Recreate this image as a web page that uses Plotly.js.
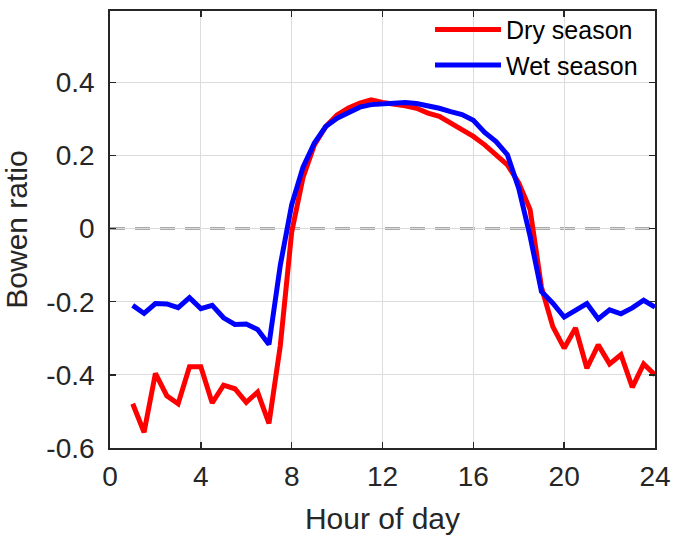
<!DOCTYPE html>
<html>
<head>
<meta charset="utf-8">
<script src="https://cdn.plot.ly/plotly-3.0.1.min.js"></script>
<style>html,body{margin:0;padding:0;background:#fff;}#chart{width:685px;height:535px;}</style>
</head>
<body>
<div id="chart"></div>
<script>
var hours = [1,1.5,2,2.5,3,3.5,4,4.5,5,5.5,6,6.5,7,7.5,8,8.5,9,9.5,10,10.5,11,11.5,12,12.5,13,13.5,14,14.5,15,15.5,16,16.5,17,17.5,18,18.5,19,19.5,20,20.5,21,21.5,22,22.5,23,23.5,24];
var drySeason = [-0.479,-0.557,-0.396,-0.457,-0.479,-0.378,-0.378,-0.477,-0.428,-0.438,-0.475,-0.447,-0.533,-0.32,-0.01,0.14,0.229,0.279,0.311,0.33,0.343,0.352,0.345,0.342,0.336,0.329,0.316,0.307,0.289,0.27,0.252,0.229,0.202,0.174,0.125,0.052,-0.16,-0.268,-0.327,-0.272,-0.382,-0.318,-0.37,-0.345,-0.434,-0.37,-0.4];
var wetSeason = [-0.21,-0.232,-0.205,-0.206,-0.216,-0.189,-0.219,-0.21,-0.244,-0.262,-0.261,-0.276,-0.317,-0.1,0.065,0.168,0.234,0.279,0.302,0.316,0.332,0.339,0.34,0.343,0.345,0.342,0.336,0.329,0.32,0.312,0.296,0.263,0.238,0.202,0.11,-0.021,-0.172,-0.204,-0.242,-0.224,-0.205,-0.247,-0.222,-0.233,-0.217,-0.196,-0.215];
var xTickVals = [0,4,8,12,16,20,24];
var xTickText = ['0','4','8','12','16','20','24'];
var yTickVals = [-0.6,-0.4,-0.2,0,0.2,0.4];
var yTickText = ['-0.6','-0.4','-0.2','0','0.2','0.4'];

var font = 'Liberation Sans, Arial, Helvetica, sans-serif';
var traces = [
  {x: hours, y: drySeason, type: 'scatter', mode: 'lines', name: 'Dry season',
   line: {color: '#ff0000', width: 5}},
  {x: hours, y: wetSeason, type: 'scatter', mode: 'lines', name: 'Wet season',
   line: {color: '#0000ff', width: 5}}
];
var axisCommon = {
  showgrid: true, gridcolor: '#dcdcdc', gridwidth: 1,
  zeroline: false, showline: true, linecolor: '#262626', linewidth: 1.8,
  mirror: 'ticks', ticks: 'inside', ticklen: 6, tickwidth: 1.5, tickcolor: '#262626',
  tickfont: {family: font, size: 28, color: '#262626'}
};
var layout = {
  width: 685, height: 535,
  margin: {l: 110, r: 30, t: 11, b: 87, pad: 0, autoexpand: false},
  paper_bgcolor: '#ffffff', plot_bgcolor: '#ffffff',
  showlegend: true,
  legend: {x: 0.978, xanchor: 'right', y: 1.01, yanchor: 'top', bgcolor: 'rgba(0,0,0,0)',
           font: {family: font, size: 25, color: '#000000'}, itemwidth: 66},
  xaxis: Object.assign({}, axisCommon, {
    range: [0, 24], tickmode: 'array', tickvals: xTickVals, ticktext: xTickText,
    ticklabelstandoff: 3,
    title: {text: 'Hour of day', font: {family: font, size: 30, color: '#262626'}}
  }),
  yaxis: Object.assign({}, axisCommon, {
    range: [-0.6, 0.595], tickmode: 'array', tickvals: yTickVals, ticktext: yTickText,
    ticklabelstandoff: 8,
    title: {text: 'Bowen ratio', standoff: 11, font: {family: font, size: 30, color: '#262626'}}
  }),
  shapes: [{type: 'line', xref: 'paper', x0: 0, x1: 1, yref: 'y', y0: 0, y1: 0,
            line: {color: '#555555', width: 2, dash: '15px,10px'}, layer: 'below'}]
};
Plotly.newPlot('chart', traces, layout, {displayModeBar: false, staticPlot: true});
</script>
</body>
</html>
